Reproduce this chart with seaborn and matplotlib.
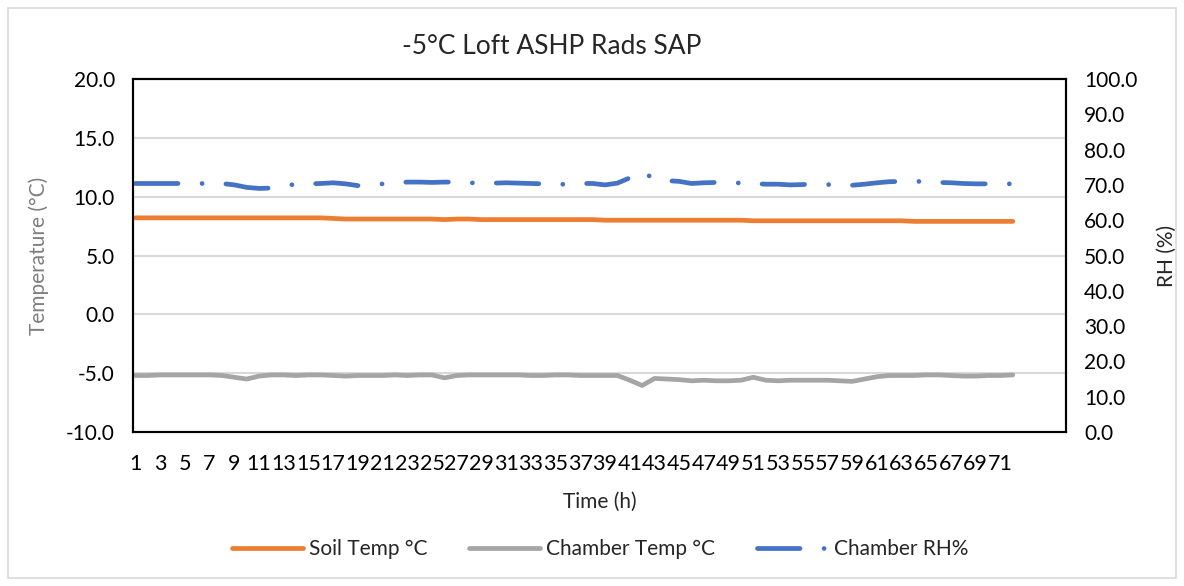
import pandas as pd
import matplotlib.pyplot as plt
import seaborn as sns
from matplotlib.patches import Rectangle

# data
hours = list(range(1, 73))

soil_temp = [8.2, 8.2, 8.2, 8.2, 8.2, 8.2, 8.2, 8.2, 8.2, 8.2,
             8.2, 8.2, 8.2, 8.2, 8.2, 8.2, 8.15, 8.1, 8.1, 8.1,
             8.1, 8.1, 8.1, 8.1, 8.1, 8.05, 8.1, 8.1, 8.05, 8.05,
             8.05, 8.05, 8.05, 8.05, 8.05, 8.05, 8.05, 8.05, 8.0, 8.0,
             8.0, 8.0, 8.0, 8.0, 8.0, 8.0, 8.0, 8.0, 8.0, 8.0,
             7.95, 7.95, 7.95, 7.95, 7.95, 7.95, 7.95, 7.95, 7.95, 7.95,
             7.95, 7.95, 7.95, 7.9, 7.9, 7.9, 7.9, 7.9, 7.9, 7.9,
             7.9, 7.9]

chamber_temp = [-5.2, -5.2, -5.15, -5.15, -5.15, -5.15, -5.15, -5.2, -5.35, -5.5,
                -5.25, -5.15, -5.15, -5.2, -5.15, -5.15, -5.2, -5.25, -5.2, -5.2,
                -5.2, -5.15, -5.2, -5.15, -5.15, -5.4, -5.2, -5.15, -5.15, -5.15,
                -5.15, -5.15, -5.2, -5.2, -5.15, -5.15, -5.2, -5.2, -5.2, -5.2,
                -5.6, -6.05, -5.45, -5.5, -5.55, -5.65, -5.6, -5.65, -5.65, -5.6,
                -5.35, -5.6, -5.65, -5.6, -5.6, -5.6, -5.6, -5.65, -5.7, -5.5,
                -5.3, -5.2, -5.2, -5.2, -5.15, -5.15, -5.2, -5.25, -5.25, -5.2,
                -5.2, -5.15]

chamber_rh = [70.4, 70.4, 70.4, 70.4, 70.4, 70.4, 70.4, 70.4, 70.0, 69.3,
              69.0, 69.1, 69.6, 70.3, 70.3, 70.4, 70.6, 70.3, 69.8, 70.0,
              70.3, 70.6, 70.8, 70.8, 70.7, 70.8, 70.8, 70.6, 70.5, 70.5,
              70.6, 70.5, 70.4, 70.3, 70.0, 70.3, 70.4, 70.4, 70.0, 70.5,
              72.0, 73.8, 71.6, 71.2, 71.0, 70.4, 70.6, 70.7, 70.4, 70.6,
              70.4, 70.2, 70.2, 70.0, 70.1, 70.3, 70.1, 70.0, 69.9, 70.2,
              70.6, 70.9, 71.0, 71.1, 70.8, 70.7, 70.6, 70.4, 70.3, 70.3,
              70.3, 70.3]

df = pd.DataFrame({'Hour': hours, 'Soil': soil_temp,
                   'Chamber': chamber_temp, 'RH': chamber_rh})

sns.set_style('white')
plt.rcParams['font.family'] = ['Lato', 'DejaVu Sans']

fig = plt.figure(figsize=(11.84, 5.86), dpi=100)
ax = fig.add_axes([133/1184, 1 - 432/586, (1066-133)/1184, (432-79)/586])
ax2 = ax.twinx()

lw = 3.4
sns.lineplot(data=df, x='Hour', y='Soil', ax=ax, color='#ED7D31', linewidth=lw,
             label='Soil Temp °C', legend=False, solid_capstyle='round')
sns.lineplot(data=df, x='Hour', y='Chamber', ax=ax, color='#A5A5A5', linewidth=lw,
             label='Chamber Temp °C', legend=False, solid_capstyle='round')
sns.lineplot(data=df, x='Hour', y='RH', ax=ax2, color='#4472C4', linewidth=lw,
             label='Chamber RH%', legend=False, dashes=False)
rh_line = ax2.get_lines()[0]
rh_line.set_dashes((9, 5.1, 0.01, 5.05))
rh_line.set_dash_capstyle('round')

ax.set_xlim(0.8, 76.3)
ax.set_ylim(-10, 20)
ax2.set_ylim(0, 100)
ax.set_yticks([-10, -5, 0, 5, 10, 15, 20])
ax.set_yticklabels([f'{v:.1f}' for v in [-10, -5, 0, 5, 10, 15, 20]])
ax2.set_yticks(range(0, 101, 10))
ax2.set_yticklabels([f'{v:.1f}' for v in range(0, 101, 10)])
ax.set_xticks(hours[::2])
ax.set_xticklabels([str(h) for h in hours[::2]])

ax.grid(axis='y', color='#D9D9D9', linewidth=1.5)
ax.set_axisbelow(True)
ax.tick_params(axis='x', length=0, pad=16, labelsize=15.5, labelcolor='black')
ax.tick_params(axis='y', length=0, pad=13, labelsize=15, labelcolor='black')
ax2.tick_params(axis='y', length=0, pad=13, labelsize=15, labelcolor='black')

for a in (ax, ax2):
    for s in a.spines.values():
        s.set_color('black')
        s.set_linewidth(1.5)

ax.set_xlabel('Time (h)', fontsize=15, labelpad=13)
ax.set_ylabel('Temperature (°C)', fontsize=15, color='#7F7F7F', labelpad=12)
ax2.set_ylabel('RH (%)', fontsize=15, labelpad=14)

fig.text(552/1184, 1 - 47/586, '-5°C Loft ASHP Rads SAP', fontsize=19,
         ha='center', va='center', color='#262626')

handles = ax.get_lines() + ax2.get_lines()
fig.legend(handles, [h.get_label() for h in handles], loc='center',
           bbox_to_anchor=(600/1184, 1 - 549/586), ncol=3, frameon=False,
           fontsize=15, handlelength=3.4, handletextpad=0.3, columnspacing=2.0)

fig.patches.append(Rectangle((8/1184, 8/586), 1168/1184, 570/586,
                             transform=fig.transFigure, fill=False,
                             edgecolor='#D9D9D9', linewidth=1.2))

plt.savefig('out.png', dpi=100)
